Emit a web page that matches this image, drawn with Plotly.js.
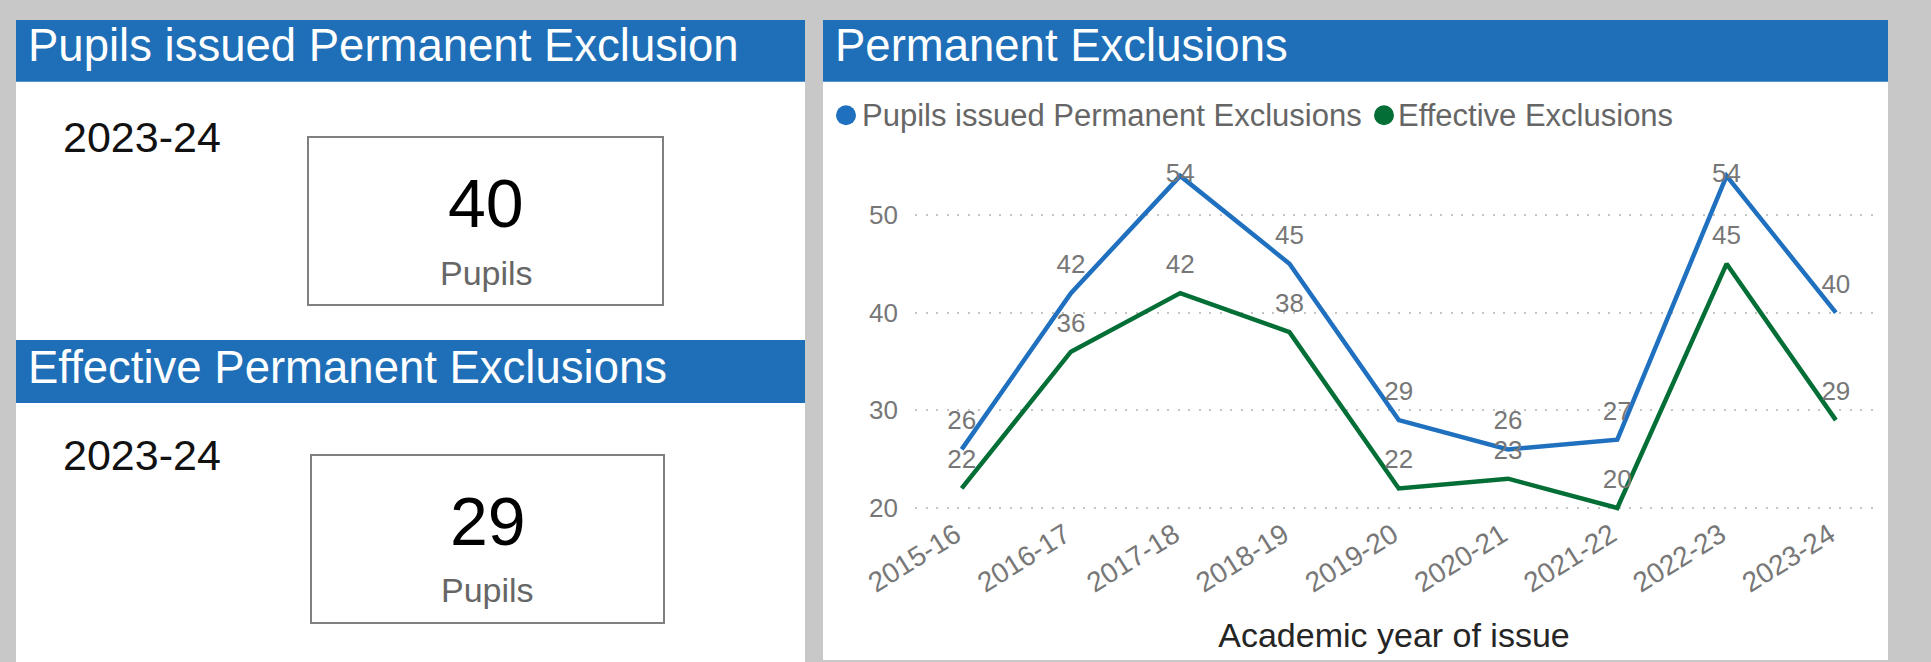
<!DOCTYPE html>
<html>
<head>
<meta charset="utf-8">
<script src="https://cdn.plot.ly/plotly-3.0.1.min.js"></script>
<style>
html,body{margin:0;padding:0;background:#c8c8c8;overflow:hidden}
#chart{width:1931px;height:662px}
</style>
</head>
<body>
<div id="chart"></div>
<script>
// ---- data ----
const years = ['2015-16','2016-17','2017-18','2018-19','2019-20','2020-21','2021-22','2022-23','2023-24'];
const pupilsIssued = [26, 42, 54, 45, 29, 26, 27, 54, 40];
const effectiveExclusions = [22, 36, 42, 38, 22, 23, 20, 45, 29];
const seriesNames = ['Pupils issued Permanent Exclusions', 'Effective Exclusions'];
const yTickValues = [20, 30, 40, 50];
const kpiUnit = 'Pupils';

// ---- style ----
const W = 1931, H = 662;
const FONT = 'Liberation Sans, Arial, Helvetica, sans-serif';
const BLUE = '#1f70bf';
const GREEN = '#036e35';
const HEADER = '#1e6fb8';
const LABEL = '#777777';
const px = x => x / W;
const py = y => 1 - y / H;

const yRange = [19.59, 55.32];
const labelUnits = 3.9;
const positions = vals => vals.map(v => (v + labelUnits > yRange[1] ? 'middle center' : 'top center'));

function lineTrace(vals, name, color) {
  return {
    type: 'scatter', mode: 'lines+markers+text',
    x: years, y: vals, name: name,
    line: {color: color, width: 4.5},
    marker: {size: 20, color: 'rgba(0,0,0,0)'},
    text: vals.map(String),
    textposition: positions(vals),
    textfont: {family: FONT, size: 26, color: LABEL},
    cliponaxis: false, showlegend: false, hoverinfo: 'x+y+name'
  };
}

const data = [
  lineTrace(pupilsIssued, seriesNames[0], BLUE),
  lineTrace(effectiveExclusions, seriesNames[1], GREEN)
];

const rect = (x0, y0, x1, y1, fill, line) => ({
  type: 'rect', xref: 'paper', yref: 'paper', layer: 'below',
  x0: px(x0), x1: px(x1), y0: py(y1), y1: py(y0),
  fillcolor: fill, line: line || {width: 0}
});
const circle = (cx, cy, r, fill) => ({
  type: 'circle', xref: 'paper', yref: 'paper', layer: 'above',
  x0: px(cx - r), x1: px(cx + r), y0: py(cy + r), y1: py(cy - r),
  fillcolor: fill, line: {width: 0}
});
const note = (text, x, y, size, color, anchor) => ({
  text: text, xref: 'paper', yref: 'paper', x: px(x), y: py(y),
  xanchor: anchor || 'left', yanchor: 'middle', showarrow: false,
  borderpad: 0, font: {family: FONT, size: size, color: color}
});

const lastYear = years[years.length - 1];
const lastPupils = pupilsIssued[pupilsIssued.length - 1];
const lastEffective = effectiveExclusions[effectiveExclusions.length - 1];

const shapes = [
  // left panel
  rect(16, 20, 805, 662, '#ffffff'),
  rect(16, 20, 805, 81.7, HEADER),
  rect(16, 340, 805, 403, HEADER),
  rect(308, 137, 663, 305, '#ffffff', {color: '#808080', width: 2}),
  rect(311, 455, 664, 623, '#ffffff', {color: '#808080', width: 2}),
  // right panel
  rect(823, 20, 1888, 660, '#ffffff'),
  rect(823, 20, 1888, 81.7, HEADER),
  // legend symbols
  circle(846, 115.3, 10, BLUE),
  circle(1384, 115.3, 10, GREEN)
];

const annotations = [
  note('Pupils issued Permanent Exclusion', 27, 46, 45.5, '#ffffff'),
  note(lastYear, 62, 137, 43, '#111111'),
  note(String(lastPupils), 486, 203, 68, '#000000', 'center'),
  note(kpiUnit, 486, 273, 34, '#666666', 'center'),
  note('Effective Permanent Exclusions', 27, 367, 45.5, '#ffffff'),
  note(lastYear, 62, 455, 43, '#111111'),
  note(String(lastEffective), 488, 521, 68, '#000000', 'center'),
  note(kpiUnit, 488, 590, 34, '#666666', 'center'),
  note('Permanent Exclusions', 834, 46, 45.5, '#ffffff'),
  note(seriesNames[0], 861, 115, 31, '#666666'),
  note(seriesNames[1], 1397, 115, 31, '#666666')
];

const layout = {
  width: W, height: H,
  margin: {l: 0, r: 0, t: 0, b: 0},
  paper_bgcolor: '#c8c8c8', plot_bgcolor: 'rgba(0,0,0,0)',
  showlegend: false,
  font: {family: FONT},
  xaxis: {
    type: 'category', categoryorder: 'array', categoryarray: years,
    domain: [px(915), px(1873)], range: [-0.427, 8.34],
    showgrid: false, zeroline: false, showline: false, ticks: '',
    tickangle: -32, ticklabelshift: -6, tickfont: {family: FONT, size: 28, color: LABEL},
    automargin: false,
    title: {text: 'Academic year of issue', font: {family: FONT, size: 34, color: '#252525'}, standoff: 25}
  },
  yaxis: {
    domain: [py(512), py(163)], range: yRange,
    tickvals: yTickValues, ticks: '', ticklabelstandoff: 16,
    showgrid: true, gridcolor: '#c4c4c4', gridwidth: 2, griddash: '2px,8.5px',
    zeroline: false, showline: false, automargin: false,
    tickfont: {family: FONT, size: 26, color: LABEL}
  },
  shapes: shapes,
  annotations: annotations
};

Plotly.newPlot('chart', data, layout, {displayModeBar: false, staticPlot: true});
</script>
</body>
</html>
